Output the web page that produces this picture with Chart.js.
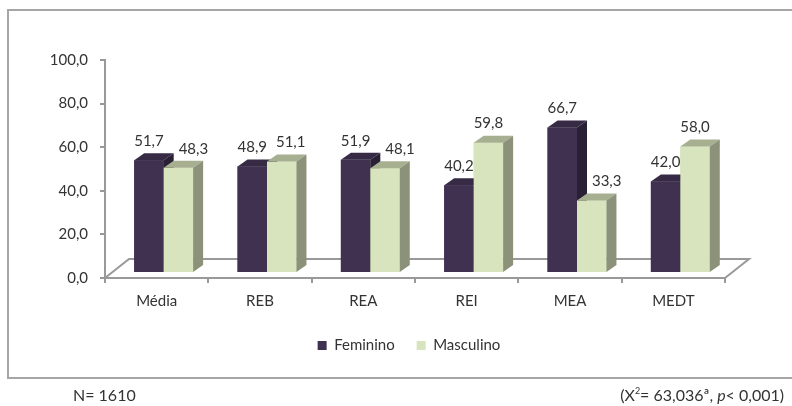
<!DOCTYPE html>
<html>
<head>
<meta charset="utf-8">
<script src="https://cdn.jsdelivr.net/npm/chart.js@4"></script>
<style>
  html, body { margin: 0; padding: 0; background: #fff; }
  #wrap { position: relative; width: 792px; height: 406px; overflow: hidden; font-family: Lato, sans-serif; color: #333; }
  #frame { position: absolute; left: 7px; top: 9px; width: 820px; height: 366px; border: 2px solid #a6a6a6; }
  canvas { position: absolute; left: 0; top: 0; }
  .note { position: absolute; top: 386px; font-size: 16px; line-height: 18px; white-space: nowrap; }
  .note sup { font-size: 9px; line-height: 0; vertical-align: 7px; }
</style>
</head>
<body>
<div id="wrap">
  <div id="frame"></div>
  <canvas id="chart" width="792" height="406"></canvas>
  <div class="note" style="left:73px">N= 1610</div>
  <div class="note" style="right:8px">(X<sup>2</sup>= 63,036ª, <i>p</i>&lt; 0,001)</div>
</div>
<script>
const categories = ['Média', 'REB', 'REA', 'REI', 'MEA', 'MEDT'];
const feminino = [51.7, 48.9, 51.9, 40.2, 66.7, 42.0];
const masculino = [48.3, 51.1, 48.1, 59.8, 33.3, 58.0];
const seriesNames = ['Feminino', 'Masculino'];

const FONT = { family: 'Lato', size: 15 };
const AXIS = '#999999';
const DEPTH = { dx: 10, dy: -7 };   // bar depth
const SHIFT = { dx: 7, dy: -5 };    // bars sit a bit behind the front of the floor
const FLOOR = { dx: 24, dy: -19 };  // floor depth

const fmt = v => v.toFixed(1).replace('.', ',');

function poly(ctx, pts) {
  ctx.beginPath();
  ctx.moveTo(pts[0][0], pts[0][1]);
  for (let i = 1; i < pts.length; i++) ctx.lineTo(pts[i][0], pts[i][1]);
  ctx.closePath();
  ctx.fill();
}

// fake 3D: floor, top and side faces, value labels
const bars3d = {
  id: 'bars3d',
  beforeDatasetsDraw(chart) {
    const { ctx, chartArea: a } = chart;
    ctx.save();
    ctx.strokeStyle = AXIS;
    ctx.lineWidth = 2;
    ctx.beginPath();
    ctx.moveTo(a.left, a.bottom);
    ctx.lineTo(a.left + FLOOR.dx, a.bottom + FLOOR.dy);
    ctx.lineTo(a.right + FLOOR.dx, a.bottom + FLOOR.dy);
    ctx.lineTo(a.right, a.bottom);
    ctx.stroke();
    ctx.restore();
    ctx.save();
    ctx.translate(SHIFT.dx, SHIFT.dy);
  },
  afterDatasetsDraw(chart) {
    const ctx = chart.ctx;
    const sets = chart.data.datasets;
    for (let i = 0; i < categories.length; i++) {
      sets.forEach((ds, d) => {
        const el = chart.getDatasetMeta(d).data[i];
        const { x, y, base, width } = el.getProps(['x', 'y', 'base', 'width'], true);
        const x0 = x - width / 2, x1 = x + width / 2;
        ctx.fillStyle = ds.backgroundColor;
        ctx.fillRect(x0, y, width, base - y);
        ctx.fillStyle = ds.topColor;
        poly(ctx, [[x0, y], [x1, y], [x1 + DEPTH.dx, y + DEPTH.dy], [x0 + DEPTH.dx, y + DEPTH.dy]]);
        ctx.fillStyle = ds.sideColor;
        poly(ctx, [[x1, y], [x1 + DEPTH.dx, y + DEPTH.dy], [x1 + DEPTH.dx, base + DEPTH.dy], [x1, base]]);
      });
    }
    ctx.fillStyle = '#333';
    ctx.font = FONT.size + 'px ' + FONT.family;
    ctx.textAlign = 'center';
    ctx.textBaseline = 'middle';
    const fEls = chart.getDatasetMeta(0).data;
    const mEls = chart.getDatasetMeta(1).data;
    for (let i = 0; i < categories.length; i++) {
      const f = fEls[i], m = mEls[i];
      ctx.fillText(fmt(feminino[i]), f.x, f.y - 19);
      // keep the right label clear of the left bar's side / label
      let nudge = 0;
      if (masculino[i] < feminino[i]) nudge = 15;
      else if (Math.abs(f.y - m.y) < 14) nudge = 9;
      ctx.fillText(fmt(masculino[i]), m.x + nudge, m.y - 19);
    }
    ctx.restore();
  }
};

new Chart(document.getElementById('chart'), {
  type: 'bar',
  data: {
    labels: categories,
    datasets: [
      { label: seriesNames[0], data: feminino, backgroundColor: '#403151', topColor: '#362a45', sideColor: '#2a2036' },
      { label: seriesNames[1], data: masculino, backgroundColor: '#d7e4bd', topColor: '#a7af91', sideColor: '#8b9279' }
    ]
  },
  options: {
    responsive: false,
    animation: false,
    categoryPercentage: 0.57,
    barPercentage: 1.0,
    layout: { padding: { left: 40, right: 14, top: 60, bottom: 43 } },
    plugins: {
      tooltip: { enabled: false },
      legend: {
        position: 'bottom',
        labels: { boxWidth: 9, boxHeight: 9, padding: 22, color: '#333', font: FONT }
      }
    },
    scales: {
      x: {
        offset: true,
        grid: { offset: true, drawOnChartArea: false, tickLength: 5, color: AXIS, lineWidth: 2 },
        border: { color: AXIS, width: 2 },
        ticks: { padding: 9, color: '#333', font: FONT },
        afterFit: s => { s.height = 38; }
      },
      y: {
        min: 0,
        max: 100,
        grid: { drawOnChartArea: false, tickLength: 5, color: AXIS, lineWidth: 2 },
        border: { color: AXIS, width: 2 },
        ticks: { stepSize: 20, padding: 12, color: '#333', font: FONT, callback: v => fmt(v) },
        afterFit: s => { s.width = 65; }
      },
      // empty right-hand spacer so the legend centres like the original
      y2: {
        position: 'right',
        grid: { display: false },
        border: { display: false },
        ticks: { display: false },
        afterFit: s => { s.width = 53; }
      }
    }
  },
  plugins: [bars3d]
});
</script>
</body>
</html>
